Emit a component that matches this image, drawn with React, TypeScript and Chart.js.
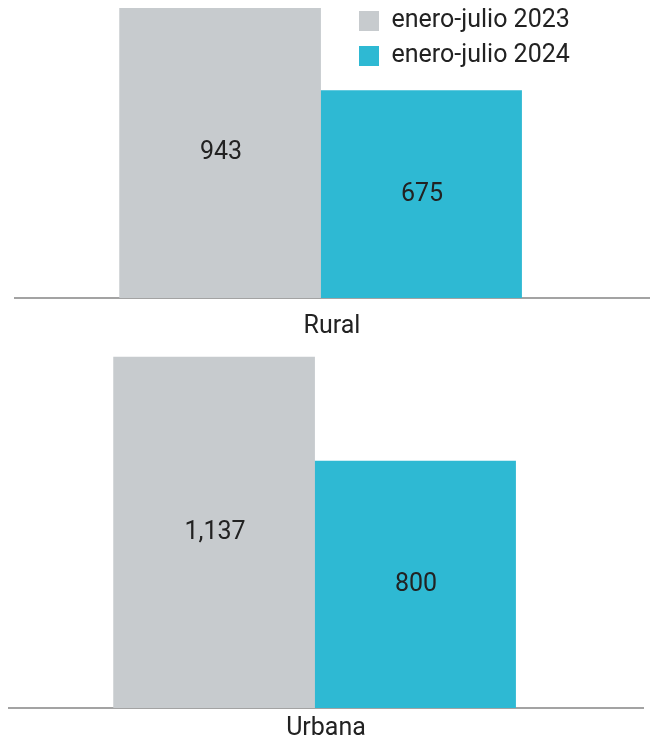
import React, { useEffect, useRef } from 'react';
import { Chart, registerables } from 'chart.js';

Chart.register(...registerables);

// ---- data ----
const CATEGORIES = ['Rural', 'Urbana'];
const SERIES_LABELS = ['enero-julio 2023', 'enero-julio 2024'];
const VALUES_2023 = [943, 1137];
const VALUES_2024 = [675, 800];
const Y_MAX = [970, 1186];

// ---- style ----
const COLORS = ['#c7cbce', '#2eb9d3'];
const TEXT_COLOR = '#222222';
const AXIS_COLOR = '#a3a3a3';
const FONT = 'Roboto';
const FONT_SIZE = 25;
const X_MIN = -48.2;
const X_MAX = 51.8;
const BAR_THICKNESS = 201;
const LEGEND_X = 349;
const LEGEND_Y = -1.5;

const valueLabels = {
  id: 'valueLabels',
  afterDatasetsDraw(chart: any) {
    const ctx = chart.ctx;
    ctx.save();
    ctx.font = `${FONT_SIZE}px ${FONT}`;
    ctx.fillStyle = TEXT_COLOR;
    ctx.textAlign = 'center';
    ctx.textBaseline = 'middle';
    chart.data.datasets.forEach((ds: any, di: number) => {
      const meta = chart.getDatasetMeta(di);
      meta.data.forEach((el: any, i: number) => {
        const v = ds.data[i].y;
        ctx.fillText(Number(v).toLocaleString('en-US'), el.x + 1, (el.y + el.base) / 2);
      });
    });
    ctx.restore();
  },
};

const legendPlacer = {
  id: 'legendPlacer',
  afterLayout(chart: any) {
    const lg = chart.legend;
    if (!lg || !chart.options.plugins.legend.display) return;
    lg.left = LEGEND_X;
    lg.right = chart.width;
    lg.top = LEGEND_Y;
    lg.bottom = chart.chartArea.bottom;
  },
};

type PanelProps = {
  index: number;
  top: number;
  height: number;
  padLeft: number;
  padRight: number;
  titlePad: { top: number; bottom: number };
  showLegend: boolean;
};

function Panel({ index, top, height, padLeft, padRight, titlePad, showLegend }: PanelProps) {
  const ref = useRef<HTMLCanvasElement | null>(null);
  useEffect(() => {
    if (!ref.current) return;
    const chart = new Chart(ref.current, {
      type: 'bar',
      data: {
        datasets: [
          {
            label: SERIES_LABELS[0],
            data: [{ x: 0, y: VALUES_2023[index] }],
            backgroundColor: COLORS[0],
            borderWidth: 0,
          },
          {
            label: SERIES_LABELS[1],
            data: [{ x: 0, y: VALUES_2024[index] }],
            backgroundColor: COLORS[1],
            borderWidth: 0,
          },
        ],
      } as any,
      options: {
        responsive: false,
        animation: false,
        events: [],
        barThickness: BAR_THICKNESS,
        layout: { padding: { left: padLeft, right: padRight, top: 0, bottom: 0 } },
        font: { family: FONT },
        scales: {
          x: {
            type: 'linear',
            min: X_MIN,
            max: X_MAX,
            offset: false,
            grid: { display: false, drawTicks: false },
            ticks: { display: false },
            border: { display: true, color: AXIS_COLOR, width: 2 },
            title: {
              display: true,
              text: CATEGORIES[index],
              color: TEXT_COLOR,
              font: { family: FONT, size: FONT_SIZE, lineHeight: 1.2 },
              padding: titlePad,
            },
          },
          y: {
            display: false,
            min: 0,
            max: Y_MAX[index],
          },
        },
        plugins: {
          tooltip: { enabled: false },
          legend: {
            display: showLegend,
            position: 'chartArea',
            align: 'start',
            labels: {
              color: TEXT_COLOR,
              font: { family: FONT, size: FONT_SIZE },
              boxWidth: 20,
              boxHeight: 20,
              padding: 10,
            },
          },
        },
      } as any,
      plugins: [valueLabels, legendPlacer],
    });
    return () => chart.destroy();
  }, [index, padLeft, padRight, titlePad, showLegend]);

  return (
    <div style={{ position: 'absolute', left: 0, top, width: 657, height }}>
      <canvas ref={ref} width={657} height={height} style={{ display: 'block' }} />
    </div>
  );
}

const TOP_TITLE_PAD = { top: 14, bottom: 0 };
const BOTTOM_TITLE_PAD = { top: 6, bottom: 2 };

export default function App() {
  return (
    <div style={{ position: 'absolute', left: 0, top: 0, width: 657, height: 746, background: '#ffffff' }}>
      <Panel index={0} top={0} height={342} padLeft={15} padRight={8} titlePad={TOP_TITLE_PAD} showLegend={true} />
      <Panel index={1} top={342} height={404} padLeft={9} padRight={14} titlePad={BOTTOM_TITLE_PAD} showLegend={false} />
    </div>
  );
}
